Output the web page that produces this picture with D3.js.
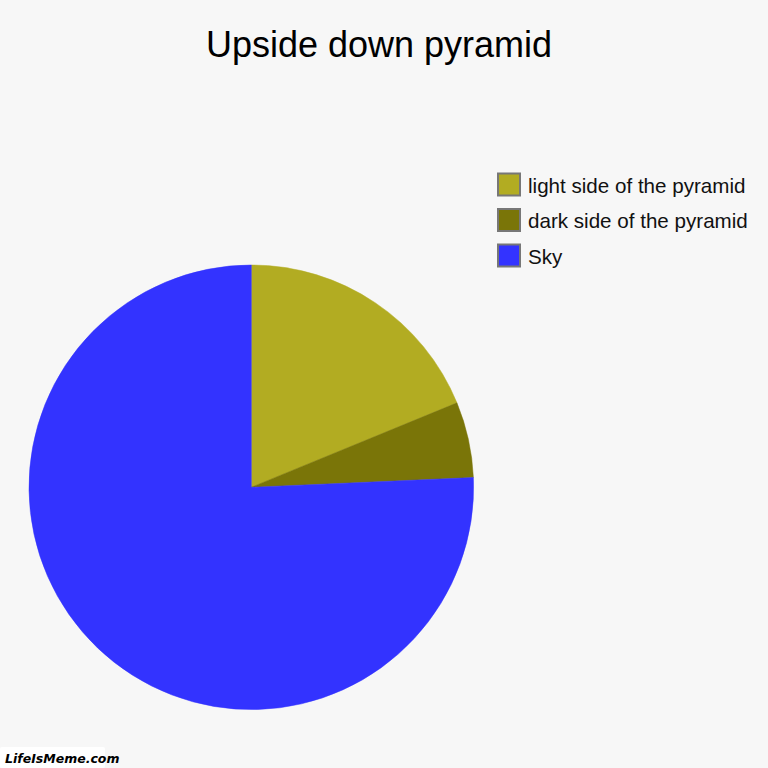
<!DOCTYPE html>
<html>
<head>
<meta charset="utf-8">
<script src="https://cdn.jsdelivr.net/npm/d3@7"></script>
<style>
  body { margin: 0; background: #f7f7f7; }
  svg { display: block; }
</style>
</head>
<body>
<div id="chart"></div>
<script>
// data
var labels = ["light side of the pyramid", "dark side of the pyramid", "Sky"];
var values = [18.8, 5.5, 75.7];
var colors = ["#b2ac22", "#7a7508", "#3333ff"];

var W = 768, H = 768;
var cx = 251.3, cy = 487.3, radius = 222.3;

var svg = d3.select("#chart")
    .append("svg")
    .attr("width", W)
    .attr("height", H);

svg.append("rect")
    .attr("width", W)
    .attr("height", H)
    .attr("fill", "#f7f7f7");

// title
svg.append("text")
    .attr("x", 379)
    .attr("y", 57)
    .attr("text-anchor", "middle")
    .attr("font-family", "Liberation Sans, Arial, sans-serif")
    .attr("font-size", 36)
    .attr("fill", "#000")
    .text("Upside down pyramid");

// pie
var pie = d3.pie().sort(null).value(function(d) { return d; });
var arc = d3.arc().innerRadius(0).outerRadius(radius);

svg.append("g")
    .attr("transform", "translate(" + cx + "," + cy + ")")
    .selectAll("path")
    .data(pie(values))
    .enter()
    .append("path")
    .attr("d", arc)
    .attr("fill", function(d, i) { return colors[i]; })
    .attr("stroke", function(d, i) { return colors[i]; })
    .attr("stroke-width", 0.5);

// legend
var legendY = d3.scaleLinear().domain([0, 1]).range([184.5, 220]);

var legend = svg.append("g")
    .selectAll("g")
    .data(labels)
    .enter()
    .append("g")
    .attr("transform", function(d, i) { return "translate(498," + legendY(i) + ")"; });

legend.append("rect")
    .attr("x", 0)
    .attr("y", -11)
    .attr("width", 22)
    .attr("height", 22)
    .attr("fill", function(d, i) { return colors[i]; })
    .attr("stroke", "#777")
    .attr("stroke-width", 2);

legend.append("text")
    .attr("x", 30)
    .attr("y", 8)
    .attr("font-family", "Liberation Sans, Arial, sans-serif")
    .attr("font-size", 20.6)
    .attr("fill", "#111")
    .text(function(d) { return d; });

// watermark
svg.append("rect")
    .attr("x", 0)
    .attr("y", 747)
    .attr("width", 105)
    .attr("height", 21)
    .attr("rx", 2)
    .attr("fill", "#fff");

svg.append("text")
    .attr("x", 5)
    .attr("y", 763)
    .attr("font-family", "DejaVu Sans, sans-serif")
    .attr("font-weight", "bold")
    .attr("font-style", "italic")
    .attr("font-size", 12.5)
    .attr("fill", "#000")
    .text("LifeIsMeme.com");
</script>
</body>
</html>
